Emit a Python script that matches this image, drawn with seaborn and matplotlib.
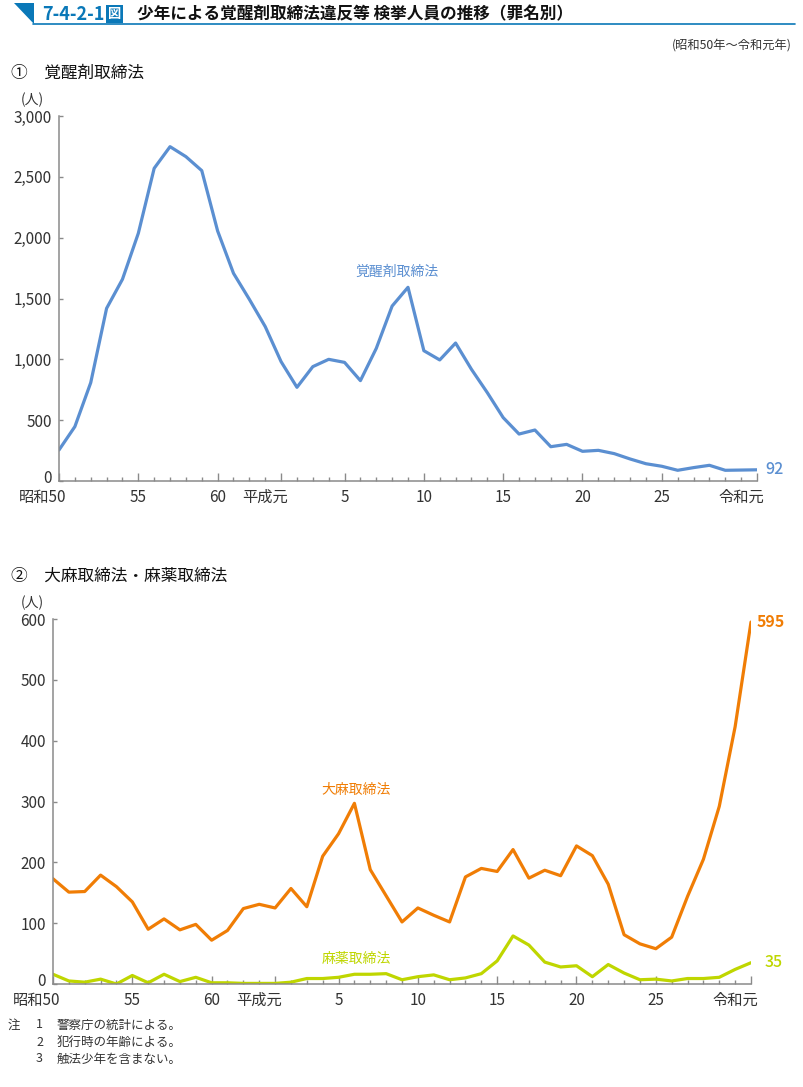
import numpy as np
import pandas as pd
import matplotlib
matplotlib.use("Agg")
import matplotlib.pyplot as plt
import matplotlib.transforms as mtrans
from matplotlib.patches import Polygon
from matplotlib.lines import Line2D
from matplotlib.ticker import FixedLocator, MultipleLocator
import seaborn as sns

# ---------------- data ----------------
years = list(range(45))  # 昭和50 (1975) ... 令和元 (2019)
tick_pos = [0, 5, 10, 14, 18, 23, 28, 33, 38, 44]
tick_labels = ['昭和50', '55', '60', '平成元', '5', '10', '15', '20', '25', '令和元']

stimulants = [255, 447, 808, 1419, 1658, 2036, 2570, 2748, 2666, 2551,
              2055, 1707, 1493, 1269,
              981, 770, 940, 1000, 975, 825, 1090, 1438, 1592,
              1071, 995, 1134, 918, 726, 521, 386, 419, 282, 301,
              244, 252, 225, 181, 142, 121, 88, 110, 129, 88,
              90, 92]
cannabis = [173, 151, 152, 179, 160, 135, 90, 107, 89, 98,
            72, 88, 124, 131,
            125, 157, 127, 210, 247, 297, 188, 145, 102,
            125, 113, 102, 176, 190, 185, 221, 174, 187, 178,
            227, 211, 164, 81, 66, 58, 77, 144, 205, 292,
            423, 595]
narcotics = [16, 5, 3, 8, 0, 14, 2, 16, 4, 11,
             2, 2, 1, 1,
             1, 3, 9, 9, 11, 16, 16, 17, 7,
             12, 15, 7, 10, 17, 38, 79, 64, 36, 28,
             30, 12, 32, 18, 7, 8, 5, 9, 9, 11,
             24, 35]

C_BLUE = '#5b8fd1'
C_ORANGE = '#f07d05'
C_GREEN = '#bfd600'
C_TITLE = '#0a78b8'
C_AXIS = '#8a8a8a'
C_TEXT = '#333333'

sns.set_theme(style='white')
plt.rcParams['font.family'] = ['Noto Sans CJK JP', 'DejaVu Sans']

W, H = 804, 1087
fig = plt.figure(figsize=(W / 100, H / 100), dpi=100)


def fx(px):
    return px / W


def fy(py):
    return 1 - py / H


def style_axes(ax, ymax, ystep, fmt):
    ax.set_xlim(0, 44)
    ax.set_ylim(0, ymax)
    for s in ['top', 'right']:
        ax.spines[s].set_visible(False)
    for s in ['left', 'bottom']:
        ax.spines[s].set_color(C_AXIS)
        ax.spines[s].set_linewidth(1.1)
    ax.xaxis.set_major_locator(FixedLocator(tick_pos))
    ax.xaxis.set_minor_locator(MultipleLocator(1))
    ax.set_xticklabels(tick_labels)
    yt = list(range(0, ymax + 1, ystep))
    ax.set_yticks(yt)
    ax.set_yticklabels([fmt(v) for v in yt])
    ax.tick_params(axis='x', which='major', direction='in', length=5.5, width=1.0,
                   color=C_AXIS, labelsize=11, labelcolor=C_TEXT, pad=5.5, bottom=True)
    ax.tick_params(axis='x', which='minor', direction='in', length=3, width=1.0,
                   color=C_AXIS, bottom=True)
    ax.tick_params(axis='y', which='major', direction='in', length=3, width=1.0,
                   color=C_AXIS, labelsize=11, labelcolor=C_TEXT, pad=5, left=True)
    ax.set_xlabel('')
    ax.set_ylabel('')
    ax.grid(False)
    off = mtrans.ScaledTranslation(0.07, 0, fig.dpi_scale_trans)
    for lbl in ax.get_xticklabels():
        if any(ord(c) > 255 for c in lbl.get_text()):
            lbl.set_ha('right')
            lbl.set_transform(lbl.get_transform() + off)
    up = mtrans.ScaledTranslation(0, 0.045, fig.dpi_scale_trans)
    zero = ax.get_yticklabels()[0]
    zero.set_transform(zero.get_transform() + up)


# ---------------- panel 1 ----------------
ax1 = fig.add_axes([fx(59), fy(481), fx(757 - 59), (481 - 116) / H])
df1 = pd.DataFrame({'year': years, 'value': stimulants})
sns.lineplot(data=df1, x='year', y='value', ax=ax1, color=C_BLUE, lw=2.3)
style_axes(ax1, 3000, 500, lambda v: f'{v:,}')
ax1.text(21.3, 1715, '覚醒剤取締法', color=C_BLUE, fontsize=10, ha='center', va='center')
ax1.annotate('92', xy=(44, stimulants[-1]), xytext=(6, 0), textcoords='offset points',
             color=C_BLUE, fontsize=11.5, ha='left', va='center', fontweight='medium',
             annotation_clip=False)

# ---------------- panel 2 ----------------
ax2 = fig.add_axes([fx(53), fy(984), fx(751 - 53), (984 - 619) / H])
df2 = pd.DataFrame({'year': years + years,
                    'value': cannabis + narcotics,
                    'law': ['大麻取締法'] * 45 + ['麻薬取締法'] * 45})
sns.lineplot(data=df2, x='year', y='value', hue='law', ax=ax2,
             palette={'大麻取締法': C_ORANGE, '麻薬取締法': C_GREEN}, lw=2.3, legend=False)
style_axes(ax2, 600, 100, lambda v: f'{v}')
ax2.text(19.1, 319, '大麻取締法', color=C_ORANGE, fontsize=10, ha='center', va='center')
ax2.text(19.1, 41, '麻薬取締法', color=C_GREEN, fontsize=10, ha='center', va='center')
ax2.annotate('595', xy=(44, cannabis[-1]), xytext=(4, 0), textcoords='offset points',
             color=C_ORANGE, fontsize=11.5, ha='left', va='center', fontweight='bold',
             annotation_clip=False)
ax2.annotate('35', xy=(44, narcotics[-1]), xytext=(10, 0), textcoords='offset points',
             color=C_GREEN, fontsize=11.5, ha='left', va='center', fontweight='medium',
             annotation_clip=False)

# ---------------- title block ----------------
fig.add_artist(Polygon([[fx(14), fy(3)], [fx(34), fy(3)], [fx(34), fy(24)]],
                       closed=True, transform=fig.transFigure, color=C_TITLE, lw=0))
fig.add_artist(Line2D([fx(33), fx(795)], [fy(24), fy(24)], transform=fig.transFigure,
                      color=C_TITLE, lw=1.2))
fig.text(fx(42), fy(14), '7-4-2-1', color=C_TITLE, fontsize=13, fontweight='bold',
         ha='left', va='center')
fig.text(fx(108), fy(14), '図', color='white', fontsize=9.5, fontweight='bold',
         ha='left', va='center',
         bbox=dict(boxstyle='square,pad=0.12', fc=C_TITLE, ec='none'))
fig.text(fx(137), fy(14), '少年による覚醒剤取締法違反等 検挙人員の推移（罪名別）',
         color='#111111', fontsize=12, fontweight='bold', ha='left', va='center')
fig.text(fx(792), fy(45), '(昭和50年～令和元年)', color=C_TEXT, fontsize=8.8,
         ha='right', va='center')

# section headings
fig.text(fx(11), fy(73), '①　覚醒剤取締法', color='#111111', fontsize=12,
         ha='left', va='center')
fig.text(fx(21), fy(100), '(人)', color=C_TEXT, fontsize=10, ha='left', va='center')
fig.text(fx(11), fy(576), '②　大麻取締法・麻薬取締法', color='#111111', fontsize=12,
         ha='left', va='center')
fig.text(fx(21), fy(603), '(人)', color=C_TEXT, fontsize=10, ha='left', va='center')

# notes
notes = [('注', '1', '警察庁の統計による。'),
         ('', '2', '犯行時の年齢による。'),
         ('', '3', '触法少年を含まない。')]
for i, (a, n, t) in enumerate(notes):
    y = fy(1025 + 17 * i)
    if a:
        fig.text(fx(8), y, a, color=C_TEXT, fontsize=9, ha='left', va='center')
    fig.text(fx(36), y, n, color=C_TEXT, fontsize=9, ha='left', va='center')
    fig.text(fx(57), y, t, color=C_TEXT, fontsize=9, ha='left', va='center')

fig.savefig('out.png', dpi=100)
